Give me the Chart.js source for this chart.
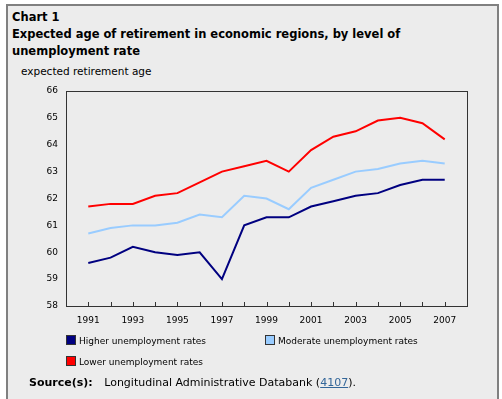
<!DOCTYPE html>
<html>
<head>
<meta charset="utf-8">
<script src="https://cdn.jsdelivr.net/npm/chart.js@4.4.1/dist/chart.umd.min.js"></script>
<style>
  html, body { margin: 0; padding: 0; }
  body { width: 502px; height: 399px; background: #fff; position: relative; overflow: hidden;
         font-family: "DejaVu Sans", Verdana, sans-serif; color: #000; }
  #frame { position: absolute; left: 6px; top: 4px; width: 489px; height: 400px;
           background: #ececec; border: 2px solid #808080; border-bottom: none; }
  .t { position: absolute; white-space: nowrap; }
  #title { left: 12px; top: 9px; font-weight: bold; font-size: 11.5px; line-height: 17px; }
  #unit { left: 21px; top: 65px; font-size: 10.5px; }
  #chart { position: absolute; left: 0; top: 0; }
  .lg { position: absolute; font-size: 9px; line-height: 10px; }
  .sw { display: inline-block; width: 8px; height: 8px; border: 1px solid #333; vertical-align: -1px; margin-right: 3px; }
  #src { left: 29px; top: 376px; font-size: 11px; }
  #src b { margin-right: 8px; }
  #src a { color: #336699; }
</style>
</head>
<body>
<div id="frame"></div>
<div class="t" id="title">Chart 1<br>Expected age of retirement in economic regions, by level of<br>unemployment rate</div>
<div class="t" id="unit">expected retirement age</div>
<canvas id="chart" width="502" height="399"></canvas>
<div class="lg" style="left:66px; top:335px;"><span class="sw" style="background:#000080"></span>Higher unemployment rates</div>
<div class="lg" style="left:265px; top:335px;"><span class="sw" style="background:#99ccff"></span>Moderate unemployment rates</div>
<div class="lg" style="left:66px; top:356px;"><span class="sw" style="background:#ff0000"></span>Lower unemployment rates</div>
<div class="t" id="src"><b>Source(s):</b> Longitudinal Administrative Databank (<a href="#">4107</a>).</div>
<script>
// ─── data ───
const years = [1991, 1992, 1993, 1994, 1995, 1996, 1997, 1998, 1999, 2000, 2001, 2002, 2003, 2004, 2005, 2006, 2007];
const higher = [59.6, 59.8, 60.2, 60.0, 59.9, 60.0, 59.0, 61.0, 61.3, 61.3, 61.7, 61.9, 62.1, 62.2, 62.5, 62.7, 62.7];
const moderate = [60.7, 60.9, 61.0, 61.0, 61.1, 61.4, 61.3, 62.1, 62.0, 61.6, 62.4, 62.7, 63.0, 63.1, 63.3, 63.4, 63.3];
const lower = [61.7, 61.8, 61.8, 62.1, 62.2, 62.6, 63.0, 63.2, 63.4, 63.0, 63.8, 64.3, 64.5, 64.9, 65.0, 64.8, 64.2];
const yTicks = [58, 59, 60, 61, 62, 63, 64, 65, 66];
const xLabelYears = [1991, 1993, 1995, 1997, 1999, 2001, 2003, 2005, 2007];

const pts = (vals) => years.map((y, i) => ({ x: y, y: vals[i] }));

// plot frame + inward year ticks on the bottom axis
const framePlugin = {
  id: 'frame',
  afterDraw(chart) {
    const { ctx, chartArea: a, scales } = chart;
    ctx.save();
    ctx.strokeStyle = '#333';
    ctx.lineWidth = 1;
    ctx.strokeRect(Math.round(a.left) + 0.5, Math.round(a.top) + 0.5,
                   Math.round(a.right - a.left), Math.round(a.bottom - a.top));
    ctx.beginPath();
    years.forEach((yr) => {
      const x = Math.round(scales.x.getPixelForValue(yr)) + 0.5;
      ctx.moveTo(x, a.bottom);
      ctx.lineTo(x, a.bottom - 4);
    });
    ctx.stroke();
    ctx.restore();
  },
};

const line = (label, vals, color) => ({
  label, data: pts(vals), borderColor: color, backgroundColor: color,
  borderWidth: 2, pointRadius: 0, tension: 0, fill: false,
});

new Chart(document.getElementById('chart'), {
  type: 'line',
  data: {
    datasets: [
      line('Higher unemployment rates', higher, '#000080'),
      line('Moderate unemployment rates', moderate, '#99ccff'),
      line('Lower unemployment rates', lower, '#ff0000'),
    ],
  },
  options: {
    responsive: false,
    animation: false,
    layout: { padding: { left: 0, top: 91, right: 35, bottom: 63 } },
    plugins: { legend: { display: false }, tooltip: { enabled: false }, title: { display: false } },
    scales: {
      x: {
        type: 'linear', min: 1990, max: 2008,
        afterBuildTicks: (s) => { s.ticks = xLabelYears.map((v) => ({ value: v })); },
        afterFit: (s) => { s.height = 30; },
        grid: { display: false, drawTicks: false },
        border: { display: false },
        ticks: { color: '#000', font: { family: 'DejaVu Sans', size: 9 }, padding: 9,
                 maxRotation: 0, autoSkip: false, callback: (v) => String(v) },
      },
      y: {
        min: 58, max: 66,
        afterBuildTicks: (s) => { s.ticks = yTicks.map((v) => ({ value: v })); },
        afterFit: (s) => { s.width = 66; },
        grid: { display: false, drawTicks: false },
        border: { display: false },
        ticks: { color: '#000', font: { family: 'DejaVu Sans', size: 9 }, padding: 8 },
      },
    },
  },
  plugins: [framePlugin],
});
</script>
</body>
</html>
